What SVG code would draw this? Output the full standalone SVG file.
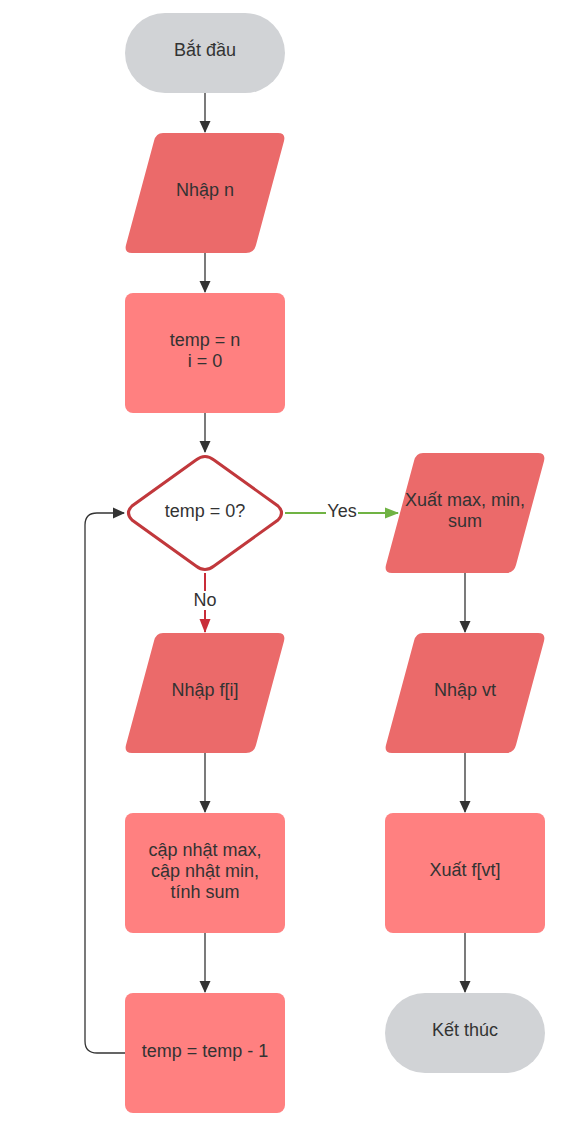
<svg xmlns="http://www.w3.org/2000/svg" width="585" height="1142" viewBox="0 0 585 1142">
<defs>
<style>
.t{font-family:"Liberation Sans",Arial,sans-serif;font-size:18px;fill:#333333;text-anchor:middle;dominant-baseline:central}
.term{fill:#d1d3d6}
.para{fill:#eb6a6a}
.proc{fill:#ff8080}
.ln{fill:none;stroke:#333333;stroke-width:1.3}
</style>
<marker id="ab" markerWidth="12" markerHeight="12" refX="11" refY="6" orient="auto" markerUnits="userSpaceOnUse"><path d="M0,0.5 L12,6 L0,11.5 Z" fill="#333333"/></marker>
<marker id="ag" markerWidth="14" markerHeight="12" refX="13" refY="6" orient="auto" markerUnits="userSpaceOnUse"><path d="M0,0.5 L14,6 L0,11.5 Z" fill="#70b344"/></marker>
<marker id="ar" markerWidth="14" markerHeight="12" refX="13" refY="6" orient="auto" markerUnits="userSpaceOnUse"><path d="M0,0.5 L14,6 L0,11.5 Z" fill="#c92d39"/></marker>
</defs>
<rect width="585" height="1142" fill="#ffffff"/>
<g id="connectors">
<path class="ln" d="M205,93 V132" marker-end="url(#ab)"/>
<path class="ln" d="M205,253 V292" marker-end="url(#ab)"/>
<path class="ln" d="M205,413 V452" marker-end="url(#ab)"/>
<path d="M285,513 H398" fill="none" stroke="#70b344" stroke-width="2" marker-end="url(#ag)"/>
<rect x="326" y="502" width="32" height="20" fill="#ffffff"/>
<text class="t" x="342" y="511">Yes</text>
<path d="M205,573 V632" fill="none" stroke="#c92d39" stroke-width="2" marker-end="url(#ar)"/>
<rect x="191" y="591" width="28" height="19" fill="#ffffff"/>
<text class="t" x="205" y="600">No</text>
<path class="ln" d="M205,753 V812" marker-end="url(#ab)"/>
<path class="ln" d="M205,933 V992" marker-end="url(#ab)"/>
<path class="ln" d="M125,1053 H97 Q85,1053 85,1041 V525 Q85,513 97,513 H124" marker-end="url(#ab)"/>
<path class="ln" d="M465,573 V632" marker-end="url(#ab)"/>
<path class="ln" d="M465,753 V812" marker-end="url(#ab)"/>
<path class="ln" d="M465,933 V992" marker-end="url(#ab)"/>
</g>
<g id="start"><rect class="term" x="125" y="13" width="160" height="80" rx="40"/><text class="t" x="205" y="50">Bắt đầu</text></g>
<g id="input-n"><path class="para" d="M163,133 H278 Q286,133 284,141 L256,245 Q254,253 246,253 H132 Q124,253 126,245 L154,141 Q156,133 163,133 Z"/><text class="t" x="205" y="190">Nhập n</text></g>
<g id="init"><rect class="proc" x="125" y="293" width="160" height="120" rx="8"/><text class="t" x="205" y="340">temp = n</text><text class="t" x="205" y="361">i = 0</text></g>
<g id="decision"><path d="M196,460 Q205,453 214,460 L278,506 Q285,513 278,520 L214,566 Q205,573 196,566 L132,520 Q125,513 132,506 Z" fill="#ffffff" stroke="#c1383c" stroke-width="3"/><text class="t" x="205" y="511">temp = 0?</text></g>
<g id="input-fi"><path class="para" d="M163,633 H278 Q286,633 284,641 L256,745 Q254,753 246,753 H132 Q124,753 126,745 L154,641 Q156,633 163,633 Z"/><text class="t" x="205" y="690">Nhập f[i]</text></g>
<g id="update"><rect class="proc" x="125" y="813" width="160" height="120" rx="8"/><text class="t" x="205" y="850">cập nhật max,</text><text class="t" x="205" y="871">cập nhật min,</text><text class="t" x="205" y="892">tính sum</text></g>
<g id="decrement"><rect class="proc" x="125" y="993" width="160" height="120" rx="8"/><text class="t" x="205" y="1051">temp = temp - 1</text></g>
<g id="output-stats"><path class="para" d="M423,453 H538 Q546,453 544,461 L516,565 Q514,573 506,573 H392 Q384,573 386,565 L414,461 Q416,453 423,453 Z"/><text class="t" x="465" y="500">Xuất max, min,</text><text class="t" x="465" y="521">sum</text></g>
<g id="input-vt"><path class="para" d="M423,633 H538 Q546,633 544,641 L516,745 Q514,753 506,753 H392 Q384,753 386,745 L414,641 Q416,633 423,633 Z"/><text class="t" x="465" y="690">Nhập vt</text></g>
<g id="output-fvt"><rect class="proc" x="385" y="813" width="160" height="120" rx="8"/><text class="t" x="465" y="870">Xuất f[vt]</text></g>
<g id="end"><rect class="term" x="385" y="993" width="160" height="80" rx="40"/><text class="t" x="465" y="1030">Kết thúc</text></g>
</svg>
